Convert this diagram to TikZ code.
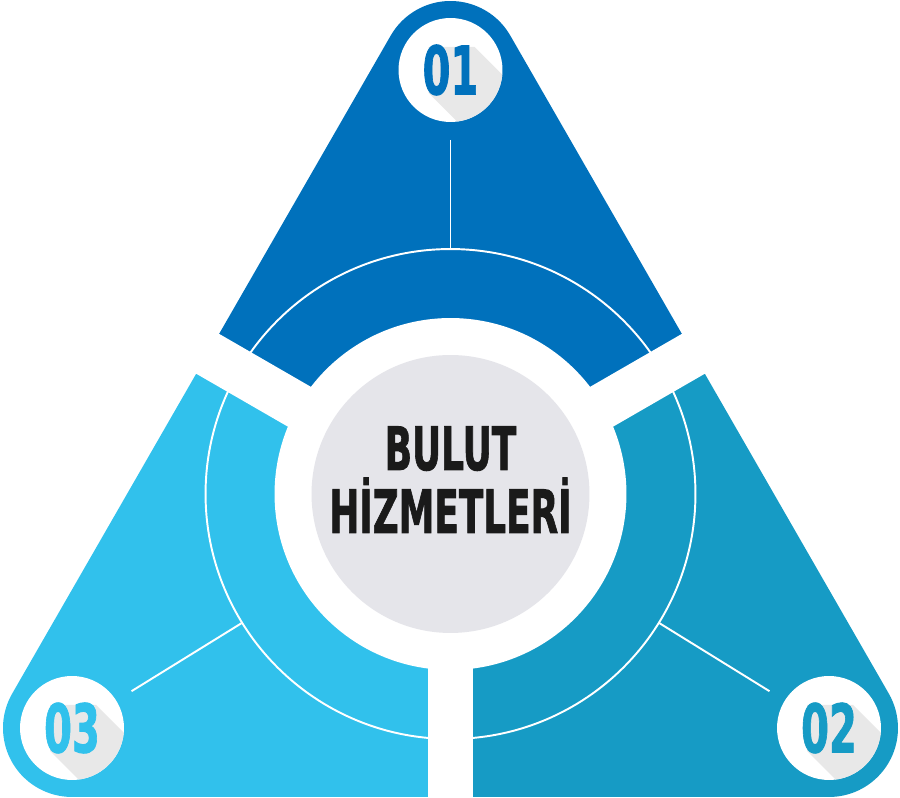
\documentclass[tikz,border=0pt]{standalone}
\usepackage{fontspec}
\setmainfont{DejaVu Sans}
\newfontfamily\heavyfont[BoldFeatures={FakeBold=1.6}]{DejaVu Sans}
\usepackage{tikz}
\usetikzlibrary{calc}
\definecolor{topblue}{RGB}{0,113,188}
\definecolor{leftblue}{RGB}{49,193,236}
\definecolor{rightblue}{RGB}{22,155,197}
\definecolor{hubgray}{RGB}{229,229,234}
\definecolor{shadowgray}{RGB}{232,232,232}
\definecolor{inkblack}{RGB}{26,26,26}
\newcommand{\narrowtext}[2]{\scalebox{#1}[1]{#2}}

\begin{document}
\begin{tikzpicture}[x=0.02cm,y=0.02cm]
  \def\r{1.38cm}
  \tikzset{numdisc/.style={circle,fill=white,minimum size=2.08cm,inner sep=0pt}}
  \tikzset{numtext/.style={inner sep=0pt,font=\fontsize{38}{38}\selectfont\heavyfont\bfseries}}
  \tikzset{title/.style={inner sep=0pt,anchor=base,text=inkblack,font=\fontsize{34}{34}\selectfont\heavyfont\bfseries}}
  \tikzset{gap/.style={white,line width=0.92cm}}
  \tikzset{thinwhite/.style={white,line width=1.1pt}}
  \useasboundingbox (0,0) rectangle (900,798);
  \coordinate (hub) at (450.5,304);
  \coordinate (p01) at (450.5,728);
  \coordinate (p02) at (829,70);
  \coordinate (p03) at (72,70);
  % three coloured parts of the rounded triangle
  \foreach \col/\a/\b in {topblue/30/150, leftblue/150/270, rightblue/270/390} {
    \begin{scope}
      \clip (hub) -- ($(hub)+(\a:1200)$) -- ($(hub)+({(\a+\b)/2}:1200)$) -- ($(hub)+(\b:1200)$) -- cycle;
      \fill[\col] ($(p03)+(270:\r)$) -- ($(p02)+(270:\r)$) arc[start angle=270,end angle=390,radius=\r]
        -- ($(p01)+(30:\r)$) arc[start angle=30,end angle=150,radius=\r]
        -- ($(p03)+(150:\r)$) arc[start angle=150,end angle=270,radius=\r] -- cycle;
    \end{scope}
  }
  \draw[thinwhite] (hub) circle[radius=4.9cm];
  \foreach \num in {01,02,03} {
    \coordinate (s\num) at ($(p\num)!1.4cm!(hub)$);
    \coordinate (e\num) at ($(hub)!4.9cm!(p\num)$);
    \draw[thinwhite] (s\num) -- (e\num);
  }
  \foreach \ang in {30,150,270}
    \draw[gap] (hub) -- ($(hub)+(\ang:700)$);
  \fill[white] (hub) circle[radius=3.52cm];
  \node[circle,fill=hubgray,minimum size=5.56cm,inner sep=0pt] (hubdisc) at (hub) {};
  \node[title] (line1) at (450.5,328) {\narrowtext{0.6}{BULUT}};
  \node[title] (line2) at (450.5,265) {\narrowtext{0.6}{HİZMETLERİ}};
  % numbered discs with long shadow
  \foreach \num/\col in {01/topblue, 02/rightblue, 03/leftblue} {
    \node[numdisc] (disc\num) at (p\num) {};
    \begin{scope}
      \clip (p\num) circle[radius=1.04cm];
      \fill[shadowgray] ($(p\num)+(-22,23)$) -- ($(p\num)+(24,23)$) -- ($(p\num)+(124,-77)$)
        -- ($(p\num)+(124,-123)$) -- ($(p\num)+(78,-123)$) -- ($(p\num)+(-22,-23)$) -- cycle;
    \end{scope}
    \node[numtext,text=\col] (n\num) at (p\num) {\narrowtext{0.6}{\num}};
  }
\end{tikzpicture}
\end{document}
